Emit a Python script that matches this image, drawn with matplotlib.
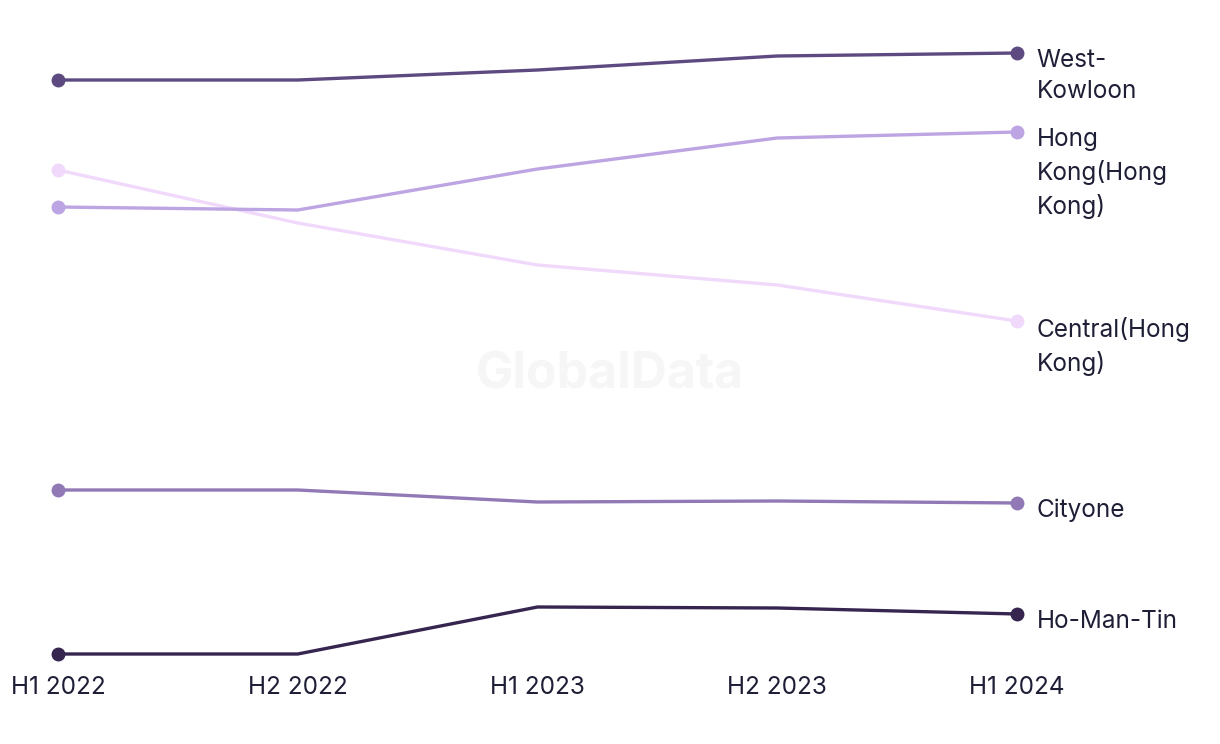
import matplotlib.pyplot as plt

# =========================
# Data
# =========================

periods = ["H1 2022", "H2 2022", "H1 2023", "H2 2023", "H1 2024"]

central = [53.0, 47.7, 43.5, 41.5, 37.9]
hong_kong = [49.3, 49.0, 53.1, 56.2, 56.8]
west_kowloon = [62.0, 62.0, 63.0, 64.4, 64.7]
cityone = [21.0, 21.0, 19.8, 19.9, 19.7]
ho_man_tin = [4.6, 4.6, 9.3, 9.2, 8.6]

series = [
    ("Central(Hong\nKong)", central, "#f0d9fb"),
    ("Hong\nKong(Hong\nKong)", hong_kong, "#bda4e2"),
    ("West-\nKowloon", west_kowloon, "#5d4a80"),
    ("Cityone", cityone, "#9179b6"),
    ("Ho-Man-Tin", ho_man_tin, "#35254f"),
]

text_color = "#1e1e36"
plt.rcParams['font.family'] = ['Inter', 'DejaVu Sans']

# =========================
# Plot
# =========================

fig = plt.figure(figsize=(12.2, 7.44), dpi=100)
ax = fig.add_axes([58 / 1220, 90 / 744, 959 / 1220, 601 / 744])

fig.text(610 / 1220, 1 - 375 / 744, "GlobalData", ha="center", va="center",
         fontsize=36, fontweight="bold", color="#f6f6f6", zorder=0)

x = list(range(len(periods)))
for name, vals, color in series:
    ax.plot(x, vals, color=color, lw=2.4, marker="o", markersize=9,
            markevery=[0, len(vals) - 1], clip_on=False, solid_capstyle="round")
    ax.annotate(name, (x[-1], vals[-1]), xytext=(14, 3), textcoords="offset points",
                ha="left", va="top", fontsize=17.5, color=text_color, linespacing=1.45,
                annotation_clip=False)

ax.set_xlim(0, len(periods) - 1)
ax.set_ylim(min(ho_man_tin), max(west_kowloon))
ax.set_xticks(x)
ax.set_xticklabels(periods, fontsize=17.5, color=text_color)
ax.tick_params(axis="x", length=0, pad=16)
ax.set_yticks([])
for s in ax.spines.values():
    s.set_visible(False)
ax.patch.set_alpha(0)

fig.savefig("out.png", dpi=100)
